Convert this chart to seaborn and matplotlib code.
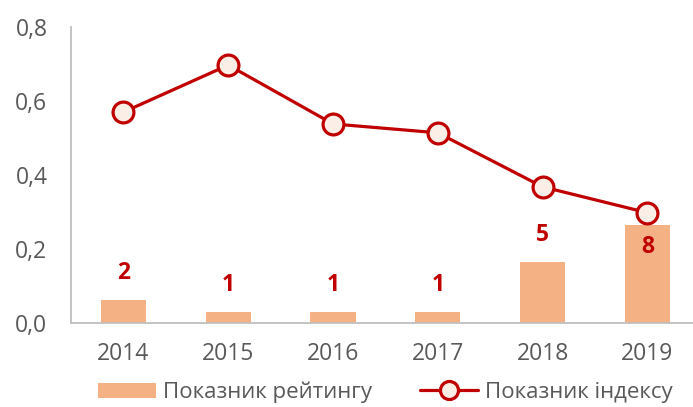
import matplotlib
matplotlib.use("Agg")
import matplotlib.pyplot as plt
import seaborn as sns
from matplotlib.patches import Patch
from matplotlib.lines import Line2D
from matplotlib.ticker import FuncFormatter

years = ["2014", "2015", "2016", "2017", "2018", "2019"]
rating_bar = [0.063, 0.031, 0.031, 0.031, 0.164, 0.264]
rating_labels = ["2", "1", "1", "1", "5", "8"]
index_vals = [0.570, 0.697, 0.538, 0.514, 0.368, 0.298]
label_offsets = [27, 27, 27, 27, 27, -22]
yticks = [0.0, 0.2, 0.4, 0.6, 0.8]

bar_color = "#F4B183"
line_color = "#C00000"
face_color = "#FBEEE6"
grey = "#595959"

sns.set_theme(style="white")
plt.rcParams["font.family"] = ["Open Sans", "DejaVu Sans"]

fig = plt.figure(figsize=(6.93, 4.07), dpi=100)
ax = fig.add_axes([0.1025, 0.2064, 0.8975, 0.7273])

sns.barplot(x=years, y=rating_bar, ax=ax, color=bar_color, width=0.43,
            saturation=1, edgecolor="none")
sns.pointplot(x=years, y=index_vals, ax=ax, color=line_color, markers="o",
              linewidth=2.3, markersize=15, markeredgewidth=2.3)
for ln in ax.lines:
    ln.set_markerfacecolor(face_color)
    ln.set_markeredgecolor(line_color)
    ln.set_zorder(5)

for i, (h, lab, off) in enumerate(zip(rating_bar, rating_labels, label_offsets)):
    ax.annotate(lab, (i, h), xytext=(0, off), textcoords="offset pixels",
                ha="center", va="center", fontsize=16.5, fontweight="bold",
                color=line_color, zorder=6)

ax.set_xlim(-0.5, 5.435)
ax.set_ylim(0, 0.8)
ax.set_yticks(yticks)
ax.yaxis.set_major_formatter(FuncFormatter(lambda v, p: f"{v:.1f}".replace(".", ",")))
ax.tick_params(axis="both", length=0, labelsize=16.5, labelcolor=grey)
ax.tick_params(axis="y", pad=17)
ax.tick_params(axis="x", pad=14)
ax.set_xlabel("")
ax.set_ylabel("")
for s in ["top", "right"]:
    ax.spines[s].set_visible(False)
for s in ["left", "bottom"]:
    ax.spines[s].set_color("#BFBFBF")
    ax.spines[s].set_linewidth(1.3)

handles = [Patch(facecolor=bar_color, edgecolor="none"),
           Line2D([0], [0], color=line_color, lw=2.3, marker="o", markersize=13,
                  markerfacecolor=face_color, markeredgecolor=line_color, markeredgewidth=2.3)]
fig.legend(handles, ["Показник рейтингу", "Показник індексу"], ncol=2,
           loc="center", bbox_to_anchor=(0.556, 0.036), frameon=False,
           fontsize=16, labelcolor=grey, handlelength=2.6, handletextpad=0.3,
           columnspacing=2.2, handleheight=0.7)

fig.savefig("out.png", dpi=100)
